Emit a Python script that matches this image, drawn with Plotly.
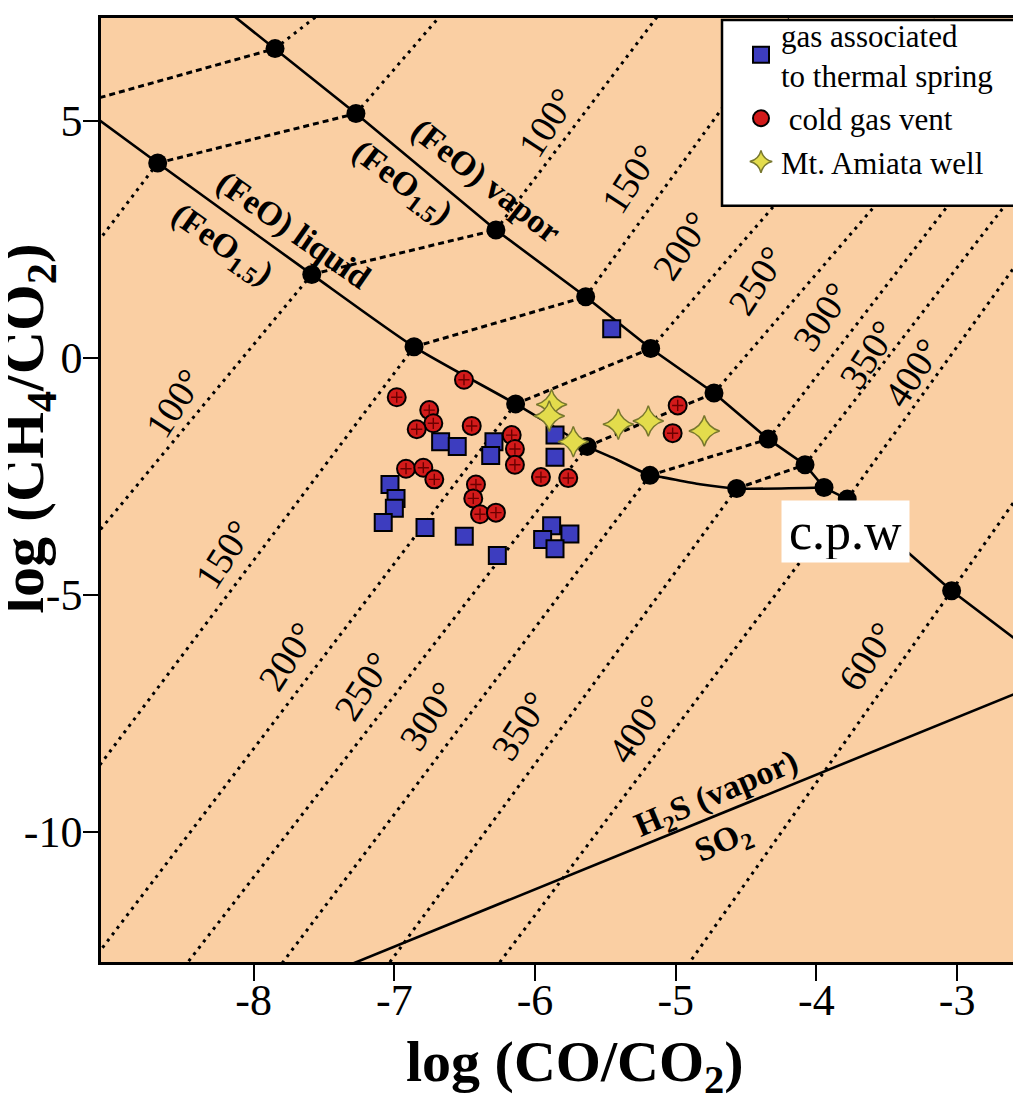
import plotly.graph_objects as go

# ---------------- axes ----------------
x_range = [-9.085, -2.489]
y_range = [-12.75, 7.17]
x_tick_vals = [-8, -7, -6, -5, -4, -3]
x_tick_text = ["-8", "-7", "-6", "-5", "-4", "-3"]
y_tick_vals = [5, 0, -5, -10]
y_tick_text = ["5", "0", "-5", "-10"]

# ---------------- buffer lines (solid) ----------------
vapor_line_x = [-8.22, -7.848, -7.273, -6.278, -5.640, -5.178, -4.728, -4.342, -4.081, -3.946, -3.781, -3.039, -2.40]
vapor_line_y = [7.40, 6.524, 5.153, 2.698, 1.288, 0.195, -0.744, -1.716, -2.258, -2.738, -2.982, -4.916, -6.356]

liquid_line_x = [-9.30, -8.682, -7.587, -6.860, -6.138, -5.629, -5.42, -5.183, -5.091, -4.828, -4.567, -3.946]
liquid_line_y = [5.46, 4.110, 1.759, 0.231, -0.973, -1.870, -2.147, -2.481, -2.523, -2.669, -2.759, -2.738]

# equilibrium points (black dots)
vapor_dot_x = [-7.848, -7.273, -6.278, -5.640, -5.178, -4.728, -4.342, -4.081, -3.946, -3.781, -3.039]
vapor_dot_y = [6.524, 5.153, 2.698, 1.288, 0.195, -0.744, -1.716, -2.258, -2.738, -2.982, -4.916]
liquid_dot_x = [-8.682, -7.587, -6.860, -6.138, -5.629, -5.183, -4.567]
liquid_dot_y = [4.110, 1.759, 0.231, -0.973, -1.870, -2.481, -2.759]

# liquid-vapor tie lines (dashed)
tie_x0 = [-9.30, -8.682, -7.587, -6.860, -6.138, -5.629, -5.183, -4.567]
tie_y0 = [5.318, 4.110, 1.759, 0.231, -0.973, -1.870, -2.481, -2.759]
tie_x1 = [-7.848, -7.273, -6.278, -5.640, -5.178, -4.728, -4.342, -4.081]
tie_y1 = [6.524, 5.153, 2.698, 1.288, 0.195, -0.744, -1.716, -2.258]

# isotherms, liquid side (dotted)
iso_low_x0 = [-8.682, -7.587, -6.860, -6.138, -5.629, -5.183, -4.567, -3.781, -3.039]
iso_low_y0 = [4.110, 1.759, 0.231, -0.973, -1.870, -2.481, -2.759, -2.982, -4.916]
iso_low_x1 = [-9.30, -9.30, -9.30, -9.30, -8.584, -7.906, -7.142, -6.363, -5.006]
iso_low_y1 = [1.694, -4.38, -9.41, -13.33, -13.2, -13.2, -13.2, -13.2, -13.2]

# isotherms, vapor side (dotted)
iso_up_x0 = [-7.848, -7.273, -6.278, -5.640, -5.178, -4.728, -4.342, -4.081, -3.781, -3.039]
iso_up_y0 = [6.524, 5.153, 2.698, 1.288, 0.195, -0.744, -1.716, -2.258, -2.982, -4.916]
iso_up_x1 = [-7.47, -6.62, -5.08, -4.15, -3.08, -2.37, -1.98, -2.30, -2.30, -2.30]
iso_up_y1 = [7.40, 7.40, 7.40, 7.40, 7.40, 7.40, 7.40, 4.60, 3.12, -1.79]

# H2S / SO2 boundary
h2s_x = [-7.40, -2.30]
h2s_y = [-12.91, -6.74]

# ---------------- samples ----------------
thermal_x = [-5.455, -6.671, -6.553, -6.292, -6.315, -5.858, -5.858, -7.031, -6.988, -7.000,
             -7.079, -6.782, -6.503, -6.268, -5.882, -5.752, -5.946, -5.858]
thermal_y = [0.612, -1.772, -1.870, -1.772, -2.064, -1.632, -2.100, -2.675, -2.967, -3.176,
             -3.476, -3.581, -3.768, -4.171, -3.545, -3.718, -3.837, -4.031]

vent_x = [-6.505, -6.983, -6.752, -6.723, -6.841, -6.450, -6.166, -6.143, -6.143, -6.917,
          -6.794, -6.716, -6.420, -6.439, -6.391, -6.278, -5.958, -5.764, -4.986, -5.022]
vent_y = [-0.464, -0.833, -1.104, -1.382, -1.507, -1.438, -1.632, -1.924, -2.258, -2.341,
          -2.321, -2.565, -2.675, -2.967, -3.301, -3.268, -2.517, -2.538, -1.006, -1.591]

well_x = [-5.882, -5.899, -5.728, -5.408, -5.195, -4.797]
well_y = [-0.986, -1.230, -1.772, -1.403, -1.334, -1.543]

# ---------------- labels ----------------
iso_low_labels = ["100°", "150°", "200°", "250°", "300°", "350°", "400°", "600°"]
iso_low_lab_x = [-8.564, -8.209, -7.765, -7.221, -6.759, -6.107, -5.278, -3.643]
iso_low_lab_y = [-0.952, -4.150, -6.305, -6.931, -7.556, -7.765, -7.836, -6.305]

iso_up_labels = ["100°", "150°", "200°", "250°", "300°", "350°", "400°"]
iso_up_lab_x = [-5.917, -5.325, -4.958, -4.425, -3.963, -3.634, -3.321]
iso_up_lab_y = [4.959, 3.777, 2.352, 1.622, 0.856, 0.064, -0.312]

SERIF = "Liberation Serif, Times New Roman, serif"
PEACH = "#FACFA3"

# plot-area pixel size, used to express the legend frame in paper units
PLOT_W, PLOT_H = 928.0, 954.0


def segments(x0, y0, x1, y1):
    xs, ys = [], []
    for a, b, c, d in zip(x0, y0, x1, y1):
        xs += [a, c, None]
        ys += [b, d, None]
    return xs, ys


fig = go.Figure()

tx, ty = segments(tie_x0, tie_y0, tie_x1, tie_y1)
fig.add_trace(go.Scatter(x=tx, y=ty, mode="lines", showlegend=False, hoverinfo="skip",
                         line=dict(color="black", width=3, dash="6px,4px")))
lx, ly = segments(iso_low_x0, iso_low_y0, iso_low_x1, iso_low_y1)
fig.add_trace(go.Scatter(x=lx, y=ly, mode="lines", showlegend=False, hoverinfo="skip",
                         line=dict(color="black", width=3, dash="3px,5px")))
ux, uy = segments(iso_up_x0, iso_up_y0, iso_up_x1, iso_up_y1)
fig.add_trace(go.Scatter(x=ux, y=uy, mode="lines", showlegend=False, hoverinfo="skip",
                         line=dict(color="black", width=3, dash="3px,5px")))

fig.add_trace(go.Scatter(x=vapor_line_x, y=vapor_line_y, mode="lines", showlegend=False,
                         hoverinfo="skip", line=dict(color="black", width=2.6)))
fig.add_trace(go.Scatter(x=liquid_line_x, y=liquid_line_y, mode="lines", showlegend=False,
                         hoverinfo="skip", line=dict(color="black", width=2.6, shape="spline", smoothing=0.6)))
fig.add_trace(go.Scatter(x=h2s_x, y=h2s_y, mode="lines", showlegend=False,
                         hoverinfo="skip", line=dict(color="black", width=2.6)))

fig.add_trace(go.Scatter(x=vapor_dot_x + liquid_dot_x, y=vapor_dot_y + liquid_dot_y, mode="markers",
                         showlegend=False, hoverinfo="skip",
                         marker=dict(color="black", size=19, line=dict(width=0))))

# samples
fig.add_trace(go.Scatter(x=thermal_x, y=thermal_y, mode="markers",
                         name="gas associated<br>to thermal spring", legendgroup="a",
                         marker=dict(symbol="square", size=17, color="#3D3DBF",
                                     line=dict(color="black", width=2))))
fig.add_trace(go.Scatter(x=vent_x, y=vent_y, mode="markers",
                         name=" cold gas vent", legendgroup="b",
                         marker=dict(symbol="circle", size=18, color="#D21A1A",
                                     line=dict(color="black", width=2))))
fig.add_trace(go.Scatter(x=vent_x, y=vent_y, mode="markers", showlegend=False, legendgroup="b",
                         hoverinfo="skip",
                         marker=dict(symbol="cross-thin", size=8, color="#6A0000",
                                     line=dict(color="#6A0000", width=1.4))))
fig.add_trace(go.Scatter(x=well_x, y=well_y, mode="markers",
                         name="Mt. Amiata well", legendgroup="c",
                         marker=dict(symbol="star-diamond", size=22, color="#E3DC4C",
                                     line=dict(color="#77772E", width=1.5))))

annotations = []
for t, x, y in zip(iso_low_labels, iso_low_lab_x, iso_low_lab_y):
    annotations.append(dict(x=x, y=y, text=t, showarrow=False, textangle=-57,
                            font=dict(family=SERIF, size=38, color="black")))
for t, x, y in zip(iso_up_labels, iso_up_lab_x, iso_up_lab_y):
    annotations.append(dict(x=x, y=y, text=t, showarrow=False, textangle=-57,
                            font=dict(family=SERIF, size=38, color="black")))

line_labels = [
    ("<b>(FeO) vapor</b>", -6.349, 3.735, 38),
    ("<b>(FeO<sub>1.5</sub>)</b>", -6.946, 3.672, 37),
    ("<b>(FeO) liquid</b>", -7.720, 2.692, 35),
    ("<b>(FeO<sub>1.5</sub>)</b>", -8.225, 2.358, 35),
    ("<b>H<sub>2</sub>S (vapor)</b>", -4.707, -9.219, -23),
    ("<b>SO<sub>2</sub></b>", -4.664, -10.241, -23),
]
for t, x, y, ang in line_labels:
    annotations.append(dict(x=x, y=y, text=t, showarrow=False, textangle=ang,
                            font=dict(family=SERIF, size=34, color="black")))

annotations.append(dict(x=-3.790, y=-3.670, text="c.p.w", showarrow=False,
                        bgcolor="white", width=121, height=55, borderpad=3,
                        font=dict(family=SERIF, size=52, color="black")))

annotations.append(dict(xref="paper", yref="paper", x=474 / PLOT_W, y=-105 / PLOT_H,
                        text="<b>log (CO/CO<sub>2</sub>)</b>", showarrow=False,
                        xanchor="center", yanchor="middle",
                        font=dict(family=SERIF, size=58, color="black")))
annotations.append(dict(xref="paper", yref="paper", x=-73 / PLOT_W, y=0.565,
                        text="<b>log (CH<sub>4</sub>/CO<sub>2</sub>)</b>", showarrow=False,
                        textangle=-90, xanchor="center", yanchor="middle",
                        font=dict(family=SERIF, size=60, color="black")))

# legend frame
shapes = [dict(type="rect", xref="paper", yref="paper",
               x0=621 / PLOT_W, x1=1.06, y0=0.801, y1=0.998,
               fillcolor="white", line=dict(color="black", width=2.5), layer="above")]

fig.update_layout(
    width=1021, height=1088,
    margin=dict(l=93, r=0, t=0, b=134),
    paper_bgcolor="white", plot_bgcolor=PEACH,
    annotations=annotations,
    shapes=shapes,
    legend=dict(x=640 / PLOT_W, y=1.011, xanchor="left", yanchor="top",
                bgcolor="rgba(0,0,0,0)", borderwidth=0,
                font=dict(family=SERIF, size=31, color="black"),
                tracegroupgap=2, traceorder="normal"),
    xaxis=dict(range=x_range, tickvals=x_tick_vals, ticktext=x_tick_text,
               showgrid=False, zeroline=False, showline=True, linecolor="black", linewidth=2.5,
               mirror=True, ticks="outside", ticklen=16, tickwidth=2, tickcolor="black",
               ticklabelstandoff=-19,
               tickfont=dict(family=SERIF, size=44, color="black")),
    yaxis=dict(range=y_range, tickvals=y_tick_vals, ticktext=y_tick_text,
               showgrid=False, zeroline=False, showline=True, linecolor="black", linewidth=2.5,
               ticks="outside", ticklen=15, tickwidth=2, tickcolor="black",
               ticklabelstandoff=-8,
               tickfont=dict(family=SERIF, size=44, color="black")),
)

fig.write_html("out.html")
